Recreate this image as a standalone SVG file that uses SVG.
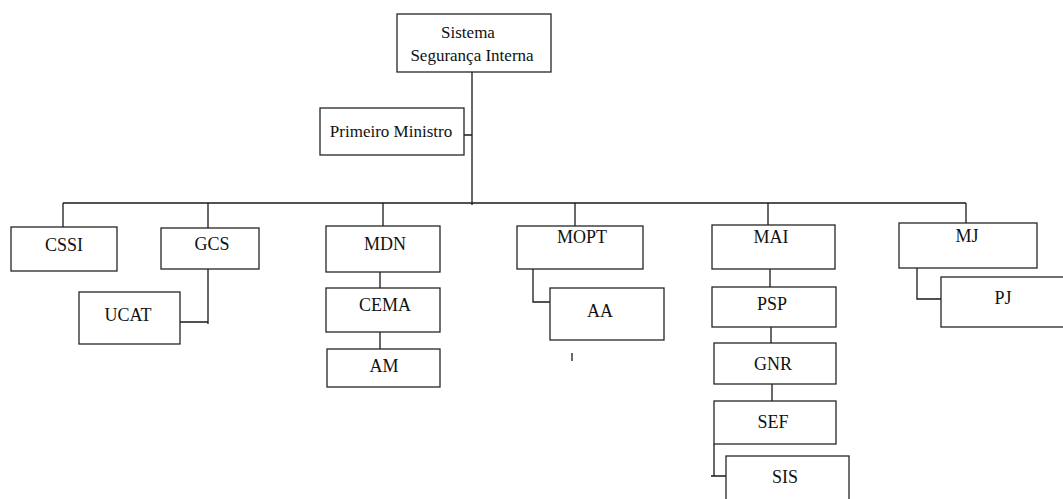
<svg xmlns="http://www.w3.org/2000/svg" width="1063" height="499" viewBox="0 0 1063 499">
<style>
rect{fill:#fff;stroke:#262626;stroke-width:1.3}
.c{fill:none;stroke:#1a1a1a;stroke-width:1.3}
text{fill:#111;text-anchor:middle}
.s{font-size:17px}
.n{font-size:18px}
</style>
<rect x="0" y="0" width="1063" height="499" style="stroke:none"/>
<g id="connectors">
<path class="c" d="M472 72V205M464 135H472M63 203H966M63 203V227M208 203V228M383 203V226M575 203V226M768 203V225M966 203V223"/>
<path class="c" d="M208 269V324M180 322H208"/>
<path class="c" d="M380 272V288M380 332V349"/>
<path class="c" d="M533 269V302H550"/>
<path class="c" d="M572 353V361"/>
<path class="c" d="M770 269V287M771 327V343M772 384V401M714 444V476M711 476H726"/>
<path class="c" d="M917 268V299H941"/>
</g>
<g font-family="'Liberation Serif', 'DejaVu Serif', serif">
<g id="n-sistema"><rect x="397" y="14" width="154" height="58"/><text class="s" x="468" y="38">Sistema</text><text class="s" x="472" y="61">Segurança Interna</text></g>
<g id="n-pm"><rect x="320" y="108" width="144" height="47"/><text class="s" x="391" y="137">Primeiro Ministro</text></g>
<g id="n-cssi"><rect x="11" y="227" width="106" height="44"/><text class="n" x="64" y="251">CSSI</text></g>
<g id="n-gcs"><rect x="161" y="228" width="98" height="41"/><text class="n" x="212" y="250">GCS</text></g>
<g id="n-ucat"><rect x="79" y="292" width="101" height="52"/><text class="n" x="128" y="321">UCAT</text></g>
<g id="n-mdn"><rect x="326" y="226" width="114" height="46"/><text class="n" x="385" y="250">MDN</text></g>
<g id="n-cema"><rect x="326" y="288" width="114" height="44"/><text class="n" x="385" y="311">CEMA</text></g>
<g id="n-am"><rect x="327" y="349" width="113" height="38"/><text class="n" x="384" y="372">AM</text></g>
<g id="n-mopt"><rect x="517" y="226" width="126" height="43"/><text class="n" x="582" y="243">MOPT</text></g>
<g id="n-aa"><rect x="550" y="288" width="114" height="52"/><text class="n" x="600" y="317">AA</text></g>
<g id="n-mai"><rect x="712" y="225" width="123" height="44"/><text class="n" x="771" y="243">MAI</text></g>
<g id="n-psp"><rect x="712" y="287" width="124" height="40"/><text class="n" x="772" y="310">PSP</text></g>
<g id="n-gnr"><rect x="714" y="343" width="122" height="41"/><text class="n" x="773" y="370">GNR</text></g>
<g id="n-sef"><rect x="714" y="401" width="122" height="43"/><text class="n" x="773" y="428">SEF</text></g>
<g id="n-sis"><rect x="726" y="456" width="123" height="50"/><text class="n" x="785" y="483">SIS</text></g>
<g id="n-mj"><rect x="899" y="223" width="138" height="45"/><text class="n" x="967" y="242">MJ</text></g>
<g id="n-pj"><rect x="941" y="277" width="125" height="50"/><text class="n" x="1003" y="304">PJ</text></g>
</g>
</svg>
